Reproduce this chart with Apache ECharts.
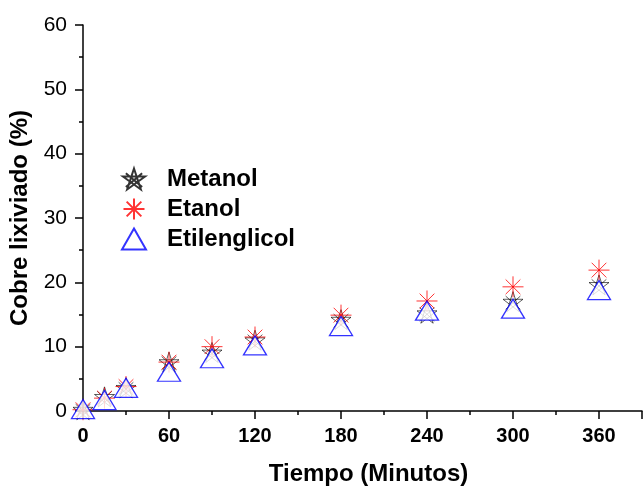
<!DOCTYPE html>
<html>
<head>
<meta charset="utf-8">
<script src="https://cdn.jsdelivr.net/npm/echarts@6/dist/echarts.min.js"></script>
<style>
    html, body { margin: 0; padding: 0; background: #fff; }
    #main { width: 644px; height: 486px; }
</style>
</head>
<body>
<div id="main"></div>
<script>
// tiempo en minutos
var tiempo = [0, 15, 30, 60, 90, 120, 180, 240, 300, 360];
// cobre lixiviado (%)
var metanol = [0.2, 2.2, 3.6, 7.6, 9.1, 11.0, 14.2, 15.2, 17.0, 19.6];
var etanol = [0.2, 2.0, 3.8, 7.6, 10.0, 11.5, 14.9, 17.1, 19.3, 21.9];
var etilenglicol = [0.3, 1.7, 3.6, 6.1, 8.2, 10.2, 13.2, 15.6, 15.9, 18.8];
var nombres = ["Metanol", "Etanol", "Etilenglicol"];

var FONT = "Liberation Sans";
var starPath = "path://M10,0L15.88,18.09L0.49,6.91L19.51,6.91L4.12,18.09Z M3,4L17,16 M17,4L3,16";
var asteriskPath = "path://M0,10L20,10 M10,0L10,20 M3,3L17,17 M17,3L3,17";

function pares(xs, ys) {
    var arr = [];
    for (var i = 0; i < xs.length; i++) {
        arr.push([xs[i], ys[i]]);
    }
    return arr;
}

var myChart = echarts.init(document.getElementById("main"));
myChart.setOption({
    animation: false,
    backgroundColor: "#fff",
    grid: { left: 83, right: 2, top: 25, bottom: 75, outerBoundsMode: "none", containLabel: false },
    legend: {
        orient: "vertical",
        left: 116,
        top: 162,
        itemWidth: 24,
        itemHeight: 21,
        itemGap: 6,
        data: nombres,
        textStyle: { fontFamily: FONT, fontWeight: "bold", fontSize: 24, color: "#000", padding: [0, 0, 0, 16] }
    },
    xAxis: {
        type: "value",
        min: 0,
        max: 390,
        interval: 60,
        name: "Tiempo (Minutos)",
        nameLocation: "middle",
        nameGap: 51,
        nameTextStyle: { fontFamily: FONT, fontWeight: "bold", fontSize: 24, color: "#000", padding: [0, 0, 0, 12] },
        axisLine: { lineStyle: { color: "#000", width: 1.5 } },
        axisTick: { length: 8, lineStyle: { color: "#000", width: 1.5 } },
        minorTick: { show: true, splitNumber: 2, length: 4, lineStyle: { color: "#000", width: 1.5 } },
        splitLine: { show: false },
        axisLabel: { showMaxLabel: false, margin: 15, fontFamily: FONT, fontWeight: "bold", fontSize: 20, color: "#000" }
    },
    yAxis: {
        type: "value",
        min: 0,
        max: 60,
        interval: 10,
        name: "Cobre lixiviado (%)",
        nameLocation: "middle",
        nameGap: 46,
        nameTextStyle: { fontFamily: FONT, fontWeight: "bold", fontSize: 24, color: "#000" },
        axisLine: { show: true, lineStyle: { color: "#000", width: 1.5 } },
        axisTick: { show: true, length: 8, lineStyle: { color: "#000", width: 1.5 } },
        minorTick: { show: true, splitNumber: 2, length: 4, lineStyle: { color: "#000", width: 1.5 } },
        splitLine: { show: false },
        axisLabel: { margin: 16, fontFamily: FONT, fontSize: 21, color: "#000" }
    },
    series: [{
        name: nombres[0],
        type: "scatter",
        clip: false,
        symbol: starPath,
        symbolSize: 20,
        data: pares(tiempo, metanol),
        itemStyle: { color: "rgba(0,0,0,0)", borderColor: "#000", borderWidth: 0.8 }
    }, {
        name: nombres[1],
        type: "scatter",
        clip: false,
        symbol: asteriskPath,
        symbolSize: 21,
        data: pares(tiempo, etanol),
        itemStyle: { color: "rgba(0,0,0,0)", borderColor: "#ff0000", borderWidth: 1 }
    }, {
        name: nombres[2],
        type: "scatter",
        clip: false,
        symbol: "triangle",
        symbolSize: [23, 19],
        data: pares(tiempo, etilenglicol),
        itemStyle: { color: "#fff", borderColor: "#0000ff", borderWidth: 1.3 }
    }]
});
</script>
</body>
</html>
